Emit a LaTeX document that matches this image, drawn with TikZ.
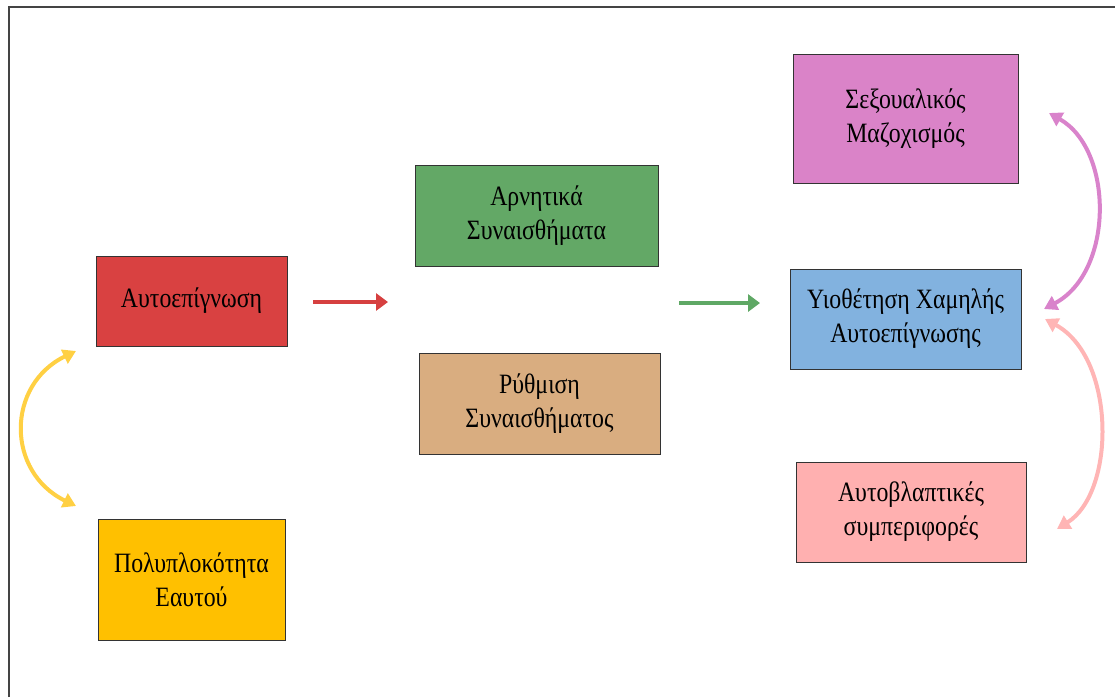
\documentclass[tikz,border=0pt]{standalone}
\usepackage{fontspec}
\setmainfont{Liberation Serif}[FakeStretch=0.85]
\usetikzlibrary{arrows.meta}
\definecolor{cred}{HTML}{D94141}
\definecolor{cyellow}{HTML}{FFC000}
\definecolor{cgreen}{HTML}{63A866}
\definecolor{ctan}{HTML}{D9AD80}
\definecolor{cpink}{HTML}{DA83C8}
\definecolor{cblue}{HTML}{82B2DF}
\definecolor{clpink}{HTML}{FFB0B0}
\definecolor{ayellow}{HTML}{FFD043}
\definecolor{apink}{HTML}{D983CB}
\definecolor{alpink}{HTML}{FFB5B5}
\definecolor{ared}{HTML}{D64040}
\definecolor{agreen}{HTML}{5FA865}
\definecolor{frame}{HTML}{444444}
\tikzset{
  box/.style={draw=black!80, line width=1pt, align=center, inner sep=0pt,
    font=\fontsize{28}{34}\selectfont},
  straight/.style={line width=4.5pt, -{Triangle[length=12pt,width=17pt]}},
  bothway/.style={line width=4pt, {Triangle[length=13pt,width=15pt]}-{Triangle[length=13pt,width=15pt]}}
}
\begin{document}
\begin{tikzpicture}[x=1pt,y=-1pt]
\useasboundingbox (0,0) rectangle (1115,697);
\draw[frame, line width=2.2pt] (9,697) -- (9,7) -- (1115,7);
% boxes
\node[box, fill=cred, minimum width=191pt, minimum height=90pt] (self) at (191.5,301) {Αυτοεπίγνωση};
\node[box, fill=cyellow, minimum width=187pt, minimum height=121pt] (compl) at (191.5,579.5) {Πολυπλοκότητα\\Εαυτού};
\node[box, fill=cgreen, minimum width=243pt, minimum height=101pt] (neg) at (536.5,215.5) {Αρνητικά\\Συναισθήματα};
\node[box, fill=ctan, minimum width=241pt, minimum height=101pt] (reg) at (539.5,403.5) {Ρύθμιση\\Συναισθήματος};
\node[box, fill=cpink, minimum width=225pt, minimum height=129pt] (maso) at (905.5,118.5) {Σεξουαλικός\\Μαζοχισμός};
\node[box, fill=cblue, minimum width=231pt, minimum height=100pt] (low) at (905.5,319) {Υιοθέτηση Χαμηλής\\Αυτοεπίγνωσης};
\node[box, fill=clpink, minimum width=230pt, minimum height=100pt] (harm) at (911,512) {Αυτοβλαπτικές\\συμπεριφορές};
% straight arrows
\coordinate (r1) at (313,302);
\coordinate (r2) at (388,302);
\coordinate (g1) at (679,303);
\coordinate (g2) at (760,303);
\draw[straight, ared] (r1) -- (r2);
\draw[straight, agreen] (g1) -- (g2);
% curved arrows
\coordinate (y1) at (76,351);
\coordinate (y2) at (76,506);
\draw[bothway, ayellow] (y1) .. controls (6,385) and (6,472) .. (y2);
\coordinate (p1) at (1049,113);
\coordinate (p2) at (1044,309);
\draw[bothway, apink] (p1) .. controls (1114,150) and (1114,272) .. (p2);
\coordinate (l1) at (1045,319);
\coordinate (l2) at (1057,529);
\draw[bothway, alpink] (l1) .. controls (1116,358) and (1116,492) .. (l2);
\end{tikzpicture}
\end{document}
